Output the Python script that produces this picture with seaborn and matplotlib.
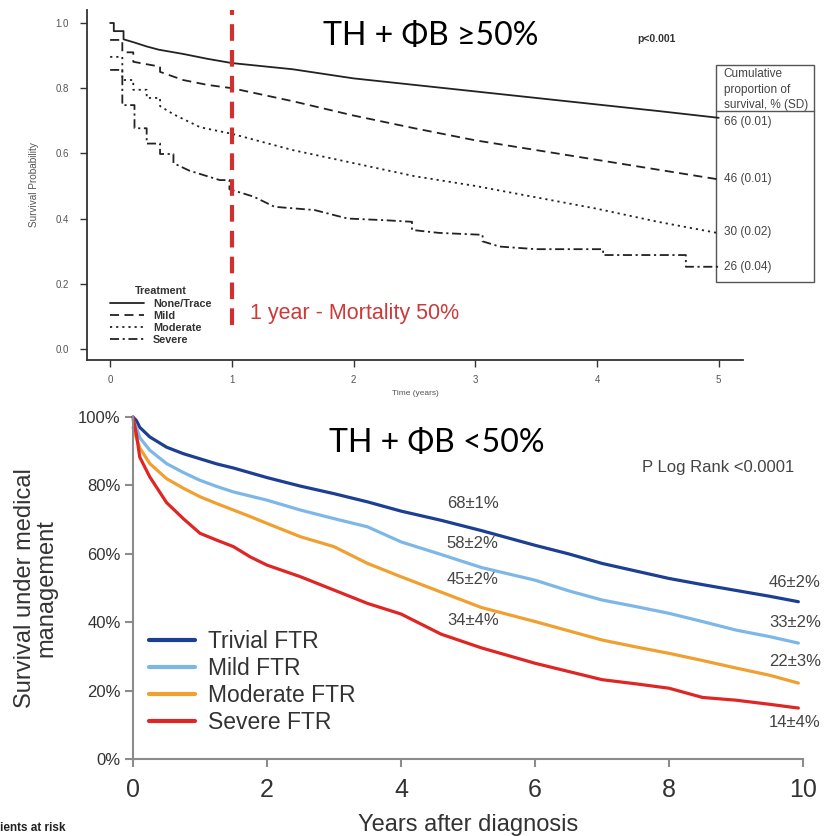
import numpy as np
import pandas as pd
import matplotlib
matplotlib.use('Agg')
import matplotlib.pyplot as plt
import seaborn as sns
from matplotlib.patches import Rectangle

# ---- top panel: Kaplan-Meier, black line styles (years 0..5)
# repeated times = vertical drop of the step curve
top_groups = ['None/Trace', 'Mild', 'Moderate', 'Severe']
none_t = [0, 0.03, 0.03, 0.11, 0.11, 0.2, 0.3, 0.4, 0.6, 0.8, 1.0, 1.5, 2.0, 2.5, 3.0,
          3.5, 4.0, 4.5, 5.0]
none_s = [1.0, 1.0, 0.975, 0.975, 0.95, 0.94, 0.928, 0.918, 0.905, 0.89, 0.877, 0.858,
          0.83, 0.81, 0.79, 0.77, 0.75, 0.73, 0.709]
mild_t = [0, 0.1, 0.1, 0.19, 0.19, 0.41, 0.41, 0.6, 0.8, 1.0, 1.5, 2.0, 2.5, 3.0, 3.5,
          4.0, 4.5, 5.0]
mild_s = [0.948, 0.948, 0.91, 0.91, 0.881, 0.866, 0.85, 0.825, 0.81, 0.80, 0.76, 0.716,
          0.677, 0.64, 0.61, 0.58, 0.55, 0.52]
mod_t = [0, 0.1, 0.1, 0.19, 0.19, 0.3, 0.3, 0.41, 0.41, 0.52, 0.74, 1.0, 1.5, 2.0, 2.5,
         3.0, 3.5, 4.0, 4.5, 5.0]
mod_s = [0.896, 0.896, 0.825, 0.825, 0.795, 0.795, 0.77, 0.77, 0.745, 0.72, 0.68, 0.66,
         0.61, 0.57, 0.53, 0.50, 0.465, 0.43, 0.39, 0.355]
sev_t = [0, 0.1, 0.1, 0.2, 0.2, 0.3, 0.3, 0.41, 0.41, 0.52, 0.52, 0.65, 0.9, 0.98, 0.98,
         1.18, 1.35, 1.68, 1.95, 2.25, 2.48, 2.48, 2.7, 3.06, 3.06, 3.2, 3.5, 4.05, 4.05,
         4.73, 4.73, 5.0]
sev_s = [0.856, 0.856, 0.748, 0.748, 0.677, 0.677, 0.63, 0.63, 0.598, 0.598, 0.57, 0.547,
         0.518, 0.518, 0.49, 0.467, 0.436, 0.426, 0.40, 0.395, 0.39, 0.365, 0.356, 0.35,
         0.33, 0.314, 0.306, 0.306, 0.288, 0.288, 0.252, 0.252]
table_values = ['66 (0.01)', '46 (0.01)', '30 (0.02)', '26 (0.04)']
table_y = [0.696, 0.521, 0.359, 0.252]

# ---- bottom panel: survival under medical management (years 0..10)
bot_groups = ['Trivial FTR', 'Mild FTR', 'Moderate FTR', 'Severe FTR']
bot_t = [0, 0.05, 0.1, 0.25, 0.5, 0.75, 1.0, 1.25, 1.5, 1.75, 2.0, 2.5, 3.0, 3.5, 4.0, 4.6,
         5.2, 6.0, 6.5, 7.0, 7.5, 8.0, 8.5, 9.0, 9.5, 9.93]
trivial = [100, 99, 97, 94.2, 91.2, 89.3, 87.8, 86.3, 85.1, 83.7, 82.3, 79.8, 77.6, 75.2, 72.5,
           69.8, 66.8, 62.5, 60, 57.2, 55, 52.8, 51, 49.3, 47.6, 46.0]
mild = [99, 97, 94, 90.3, 86.4, 83.8, 81.5, 79.7, 78.1, 76.9, 75.7, 72.8, 70.3, 67.9, 63.5,
        59.8, 56, 52.3, 49.2, 46.5, 44.6, 42.6, 40.2, 37.7, 35.8, 33.9]
moderate = [97, 94, 91, 86.4, 82, 79.2, 76.7, 74.7, 72.8, 70.9, 68.9, 65, 62.1, 57.2, 53.3,
            48.8, 44.3, 40.2, 37.5, 34.8, 32.8, 30.9, 28.8, 26.6, 24.5, 22.2]
severe = [100, 95, 88.3, 82.5, 75, 70.3, 66, 64, 62.1, 59.1, 56.7, 53.3, 49.4, 45.5, 42.4,
          36.5, 32.5, 28, 25.6, 23.2, 22, 20.7, 18, 17.2, 16, 14.9]
mid_labels = ['68±1%', '58±2%', '45±2%', '34±4%']
mid_y = [74.6, 62.9, 52.6, 40.6]
end_labels = ['46±2%', '33±2%', '22±3%', '14±4%']
end_y = [51.5, 39.8, 28.4, 10.8]

sns.set_theme(style='white')
plt.rcParams['font.family'] = ['Liberation Sans', 'DejaVu Sans']

fig = plt.figure(figsize=(8.32, 8.36), dpi=100)

# ================= top panel
ax1 = fig.add_axes([0.1046, 0.5694, 0.7885, 0.4187])
top_df = pd.concat([
    pd.DataFrame({'Time': none_t, 'Surv': none_s, 'Treatment': 'None/Trace'}),
    pd.DataFrame({'Time': mild_t, 'Surv': mild_s, 'Treatment': 'Mild'}),
    pd.DataFrame({'Time': mod_t, 'Surv': mod_s, 'Treatment': 'Moderate'}),
    pd.DataFrame({'Time': sev_t, 'Surv': sev_s, 'Treatment': 'Severe'}),
])
sns.lineplot(data=top_df, x='Time', y='Surv', hue='Treatment', style='Treatment',
             hue_order=top_groups, style_order=top_groups,
             palette=['#222222'] * 4,
             dashes={'None/Trace': '', 'Mild': (5, 3), 'Moderate': (1.2, 2.2),
                     'Severe': (5, 2, 1.2, 2)},
             estimator=None, sort=False, lw=1.3, ax=ax1)
ax1.set_xlim(-0.19, 5.2)
ax1.set_ylim(-0.034, 1.04)
ax1.set_xticks([0, 1, 2, 3, 4, 5])
ax1.set_yticks([0, 0.2, 0.4, 0.6, 0.8, 1.0])
ax1.set_yticklabels(['0.0', '0.2', '0.4', '0.6', '0.8', '1.0'])
ax1.tick_params(axis='both', labelsize=7, labelcolor='#555555', length=5, width=1,
                color='#333333', direction='out', pad=6, left=True, bottom=True)
ax1.tick_params(axis='y', pad=8)
for s in ['top', 'right']:
    ax1.spines[s].set_visible(False)
for s in ['left', 'bottom']:
    ax1.spines[s].set_color('#333333')
    ax1.spines[s].set_linewidth(1.3)
ax1.set_xlabel('')
ax1.set_ylabel('Survival Probability', fontsize=7.2, color='#555555', labelpad=12)
fig.text(0.499, 1 - 393 / 836, 'Time (years)', fontsize=6, color='#555555',
         ha='center', va='center')

h, l = ax1.get_legend_handles_labels()
leg = ax1.legend(h, l, title='Treatment', loc='upper left', bbox_to_anchor=(0.035, 0.21),
                 frameon=False, fontsize=7.8, title_fontsize=7.8, handlelength=3.1,
                 handletextpad=0.85, labelspacing=0.2, borderpad=0, borderaxespad=0)
leg.get_title().set_fontweight('bold')
leg.get_title().set_color('#333333')
for t in leg.get_texts():
    t.set_color('#333333')
    t.set_fontweight('bold')

ax1.vlines(1, 0.074, 1.04, colors='#d03030', linestyles=(0, (4, 2.2)), lw=3, clip_on=False)
ax1.text(1.15, 0.11, '1 year - Mortality 50%', color='#cc3a3a', fontsize=15.5,
         ha='left', va='center')
ax1.text(4.49, 0.951, 'p<0.001', fontsize=7.5, color='#333333', ha='center', va='center',
         fontweight='bold')

# survival table at right
ax1.add_patch(Rectangle((4.98, 0.206), 0.80, 0.665, fill=False, ec='#555555', lw=1,
                        clip_on=False))
ax1.plot([4.98, 5.78], [0.730, 0.730], color='#555555', lw=1, clip_on=False)
ax1.text(5.04, 0.842, 'Cumulative', fontsize=8.5, color='#444444', va='center', ha='left')
ax1.text(5.04, 0.794, 'proportion of', fontsize=8.5, color='#444444', va='center', ha='left')
ax1.text(5.04, 0.748, 'survival, % (SD)', fontsize=8.5, color='#444444', va='center',
         ha='left')
for txt, yv in zip(table_values, table_y):
    ax1.text(5.04, yv, txt, fontsize=8.5, color='#444444', va='center', ha='left')

# ================= bottom panel
ax2 = fig.add_axes([0.1599, 0.0921, 0.8053, 0.409])
bot_df = pd.DataFrame({'Time': bot_t * 4,
                       'Surv': trivial + mild + moderate + severe,
                       'Group': np.repeat(bot_groups, len(bot_t))})
bot_colors = {'Trivial FTR': '#1c3f94', 'Mild FTR': '#7db7e8',
              'Moderate FTR': '#f0a030', 'Severe FTR': '#e02525'}
sns.lineplot(data=bot_df, x='Time', y='Surv', hue='Group', hue_order=bot_groups,
             palette=bot_colors, estimator=None, sort=False, lw=2.3, ax=ax2)
ax2.set_xlim(0, 10)
ax2.set_ylim(0, 100)
ax2.set_xticks([0, 2, 4, 6, 8, 10])
ax2.set_yticks([0, 20, 40, 60, 80, 100])
ax2.set_yticklabels(['0%', '20%', '40%', '60%', '80%', '100%'])
ax2.tick_params(axis='x', labelsize=18, labelcolor='#333333', length=6, width=1.5,
                color='#8c8c8c', direction='out', pad=8, bottom=True)
ax2.tick_params(axis='y', labelsize=12, labelcolor='#333333', length=6, width=1.5,
                color='#8c8c8c', direction='out', pad=3, left=True)
for s in ['top', 'right']:
    ax2.spines[s].set_visible(False)
for s in ['left', 'bottom']:
    ax2.spines[s].set_color('#8c8c8c')
    ax2.spines[s].set_linewidth(1.5)
for ln in ax2.get_lines():
    ln.set_clip_on(False)
ax2.set_xlabel('Years after diagnosis', fontsize=17, color='#333333', labelpad=8)
ax2.set_ylabel('Survival under medical\nmanagement', fontsize=17, color='#333333',
               labelpad=15, linespacing=0.95)

h2, l2 = ax2.get_legend_handles_labels()
leg2 = ax2.legend(h2, l2, loc='upper left', bbox_to_anchor=(0.024, 0.378), frameon=False,
                  fontsize=16.5, handlelength=2.0, handletextpad=0.55, labelspacing=0.18,
                  borderpad=0, borderaxespad=0)
for t in leg2.get_texts():
    t.set_color('#333333')
for ln in leg2.get_lines():
    ln.set_linewidth(3)

for txt, yv in zip(mid_labels, mid_y):
    ax2.text(5.07, yv, txt, fontsize=12, color='#444444', ha='center', va='center')
for txt, yv in zip(end_labels, end_y):
    ax2.text(9.88, yv, txt, fontsize=12, color='#444444', ha='center', va='center')
ax2.text(8.73, 85.4, 'P Log Rank <0.0001', fontsize=12, color='#444444',
         ha='center', va='center')

# slide titles
fig.text(431 / 832, 1 - 36 / 836, 'TH + ΦB ≥50%', fontsize=23, color='black',
         ha='center', va='center', family=['Lato', 'Noto Sans', 'DejaVu Sans'])
fig.text(437 / 832, 1 - 443 / 836, 'TH + ΦB <50%', fontsize=23, color='black',
         ha='center', va='center', family=['Lato', 'Noto Sans', 'DejaVu Sans'])
fig.text(0.0, 1 - 828 / 836, 'ients at risk', fontsize=8.5, fontweight='bold',
         color='#222222', ha='left', va='center')

fig.savefig('out.png', dpi=100)
